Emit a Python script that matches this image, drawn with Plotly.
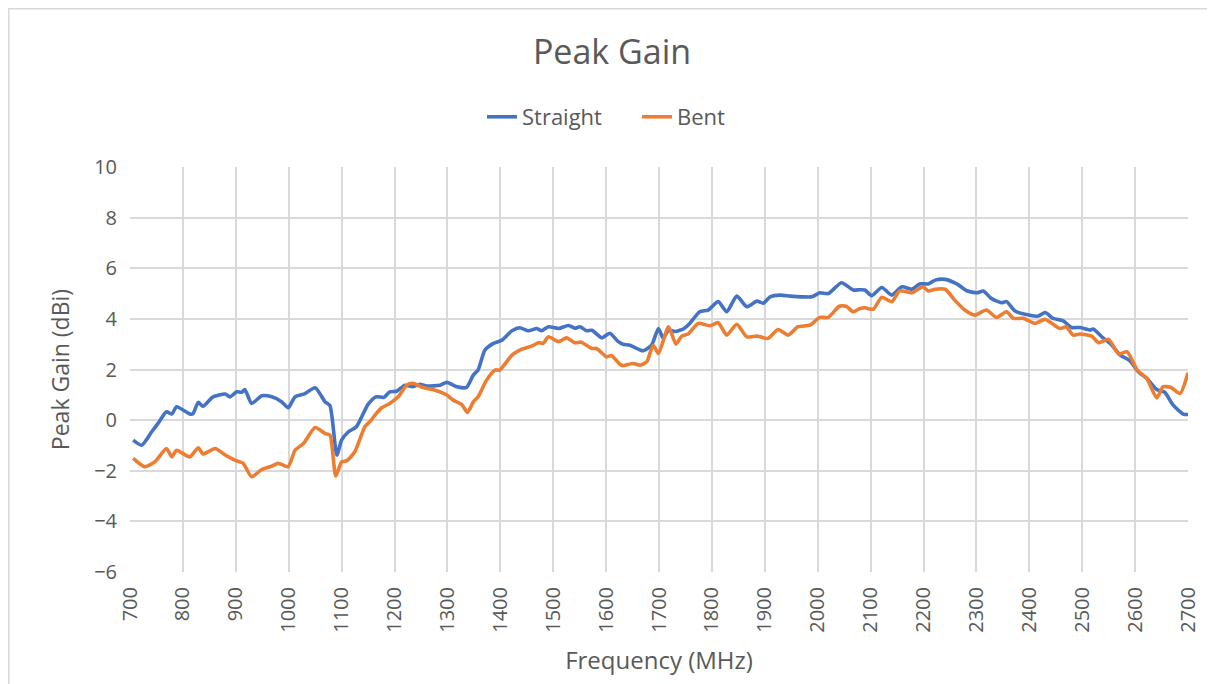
import plotly.graph_objects as go

freq_straight = [706, 722, 741, 753, 769, 779, 788, 813, 819, 829, 838, 857, 880, 889, 902, 911, 917, 930, 949, 968,
                 987, 999, 1012, 1031, 1050, 1069, 1078, 1091, 1100, 1113, 1128, 1150, 1165, 1180, 1191, 1204, 1220,
                 1235, 1248, 1261, 1286, 1299, 1318, 1336, 1349, 1358, 1371, 1387, 1403, 1422, 1437, 1453, 1469, 1478,
                 1491, 1510, 1529, 1541, 1551, 1563, 1573, 1592, 1607, 1623, 1632, 1645, 1670, 1686, 1699, 1708, 1718,
                 1730, 1746, 1758, 1777, 1793, 1812, 1828, 1847, 1866, 1885, 1897, 1910, 1929, 1948, 1970, 1989, 2004,
                 2020, 2045, 2067, 2080, 2089, 2102, 2121, 2140, 2159, 2178, 2193, 2209, 2222, 2241, 2263, 2282, 2301,
                 2313, 2328, 2347, 2357, 2373, 2392, 2417, 2430, 2445, 2464, 2480, 2496, 2515, 2521, 2537, 2553, 2572,
                 2590, 2606, 2622, 2641, 2656, 2672, 2691, 2700]
gain_straight = [-0.79, -0.99, -0.46, -0.13, 0.33, 0.24, 0.53, 0.24, 0.25, 0.70, 0.55, 0.92, 1.03, 0.92, 1.12, 1.10, 1.21,
                 0.66, 0.96, 0.92, 0.72, 0.49, 0.92, 1.05, 1.28, 0.72, 0.57, -1.38, -0.79, -0.46, -0.26, 0.62, 0.92,
                 0.90, 1.12, 1.14, 1.38, 1.32, 1.42, 1.35, 1.38, 1.49, 1.32, 1.29, 1.78, 1.98, 2.77, 3.03, 3.16, 3.53,
                 3.65, 3.53, 3.62, 3.53, 3.69, 3.62, 3.74, 3.63, 3.69, 3.53, 3.55, 3.25, 3.43, 3.10, 3.00, 2.96, 2.74,
                 2.96, 3.62, 3.23, 3.56, 3.50, 3.60, 3.82, 4.28, 4.35, 4.68, 4.28, 4.90, 4.48, 4.70, 4.62, 4.87, 4.94,
                 4.90, 4.87, 4.87, 5.03, 5.00, 5.43, 5.14, 5.15, 5.14, 4.92, 5.24, 4.94, 5.27, 5.17, 5.38, 5.38, 5.53,
                 5.56, 5.38, 5.11, 5.03, 5.10, 4.81, 4.64, 4.68, 4.31, 4.18, 4.11, 4.25, 4.02, 3.92, 3.66, 3.66, 3.56,
                 3.60, 3.29, 3.03, 2.57, 2.35, 1.91, 1.65, 1.21, 1.10, 0.59, 0.24, 0.22]

freq_bent = [706, 728, 747, 769, 779, 788, 813, 829, 838, 861, 880, 898, 914, 930, 949, 968, 980, 999, 1012, 1028,
             1050, 1069, 1078, 1089, 1100, 1110, 1125, 1144, 1154, 1163, 1176, 1191, 1207, 1223, 1235, 1254, 1280,
             1299, 1311, 1327, 1338, 1349, 1358, 1374, 1390, 1399, 1422, 1437, 1459, 1472, 1481, 1491, 1510, 1525,
             1541, 1553, 1573, 1582, 1601, 1610, 1626, 1632, 1651, 1664, 1677, 1689, 1699, 1718, 1732, 1743, 1755,
             1774, 1796, 1812, 1828, 1847, 1866, 1885, 1906, 1925, 1944, 1963, 1985, 2004, 2020, 2041, 2054, 2067,
             2080, 2089, 2105, 2121, 2140, 2155, 2178, 2199, 2209, 2222, 2241, 2259, 2278, 2297, 2319, 2338, 2357,
             2370, 2389, 2411, 2430, 2458, 2470, 2483, 2496, 2518, 2531, 2550, 2569, 2585, 2604, 2622, 2641, 2653,
             2668, 2685, 2700]
gain_bent = [-1.51, -1.84, -1.65, -1.12, -1.45, -1.19, -1.45, -1.09, -1.34, -1.12, -1.38, -1.58, -1.71, -2.24, -1.95,
             -1.82, -1.71, -1.84, -1.19, -0.92, -0.29, -0.53, -0.59, -2.21, -1.65, -1.60, -1.25, -0.26, -0.05, 0.20,
             0.49, 0.66, 0.92, 1.38, 1.45, 1.29, 1.16, 0.99, 0.79, 0.62, 0.30, 0.72, 0.92, 1.58, 1.98, 1.98, 2.57,
             2.77, 2.92, 3.06, 3.03, 3.29, 3.10, 3.25, 3.06, 3.08, 2.83, 2.83, 2.50, 2.55, 2.21, 2.15, 2.24, 2.17,
             2.31, 2.96, 2.63, 3.69, 3.00, 3.32, 3.40, 3.82, 3.73, 3.85, 3.36, 3.79, 3.29, 3.32, 3.23, 3.58, 3.36,
             3.69, 3.75, 4.06, 4.06, 4.50, 4.50, 4.28, 4.41, 4.44, 4.38, 4.85, 4.68, 5.11, 5.03, 5.27, 5.10, 5.17,
             5.17, 4.74, 4.35, 4.15, 4.35, 4.06, 4.28, 4.02, 4.02, 3.82, 3.98, 3.62, 3.69, 3.36, 3.40, 3.32, 3.06,
             3.19, 2.61, 2.70, 1.98, 1.65, 0.88, 1.32, 1.29, 1.05, 1.87]

x_ticks = list(range(700, 2701, 100))
y_ticks = list(range(-6, 11, 2))

FONT = "Open Sans"
TXT = "#595959"
GRID = "#d9d9d9"

# figure is placed with the page's 8px body margin; plot area 122..1180 x 159..564
W, H = 1215, 684
L, R, T, B = 122, 35, 159, 120
PW, PH = W - L - R, H - T - B

fig = go.Figure()
fig.add_trace(go.Scatter(x=freq_straight, y=gain_straight, mode="lines", name="Straight",
                         line=dict(color="#4472C4", width=3.6, shape="spline", smoothing=0.6)))
fig.add_trace(go.Scatter(x=freq_bent, y=gain_bent, mode="lines", name="Bent",
                         line=dict(color="#ED7D31", width=3.6, shape="spline", smoothing=0.6)))

fig.update_layout(
    width=W, height=H,
    margin=dict(l=L, r=R, t=T, b=B, pad=0),
    paper_bgcolor="white", plot_bgcolor="white",
    font=dict(family=FONT, color=TXT),
    title=dict(text="Peak Gain", x=604 / W, xref="container", xanchor="center",
               y=1 - 44 / H, yref="container", yanchor="middle",
               font=dict(family=FONT, size=34, color=TXT)),
    legend=dict(orientation="h", x=474 / W, xref="container", xanchor="left",
                y=1 - 109 / H, yref="container", yanchor="middle",
                font=dict(family=FONT, size=22, color=TXT), tracegroupgap=0,
                entrywidth=110, entrywidthmode="pixels",
                bgcolor="rgba(0,0,0,0)"),
    showlegend=True,
)
fig.update_xaxes(range=[700, 2700], tickvals=x_ticks, ticktext=[str(v) for v in x_ticks],
                 tickangle=-90, showgrid=True, gridcolor=GRID, gridwidth=1.5, zeroline=False,
                 showline=False, ticks="", ticklabelstandoff=10,
                 tickfont=dict(family=FONT, size=20, color=TXT),
                 title=dict(text="Frequency (MHz)", font=dict(family=FONT, size=24, color=TXT), standoff=20))
fig.update_yaxes(range=[-6, 10], tickvals=y_ticks, showgrid=True, gridcolor=GRID, gridwidth=1.5,
                 zeroline=False, showline=False, ticks="", ticklabelstandoff=12,
                 tickfont=dict(family=FONT, size=20, color=TXT),
                 title=dict(text="Peak Gain (dBi)", font=dict(family=FONT, size=23, color=TXT), standoff=18))

# outer chart frame (left and top edges visible)
fig.add_shape(type="rect", xref="paper", yref="paper",
              x0=(0.8 - L) / PW, x1=(W + 20 - L) / PW,
              y0=(T + PH - H - 20) / PH, y1=(T + PH - 0.8) / PH,
              line=dict(color="#d9d9d9", width=1.5), fillcolor="rgba(0,0,0,0)", layer="below")

fig.write_html("out.html")
